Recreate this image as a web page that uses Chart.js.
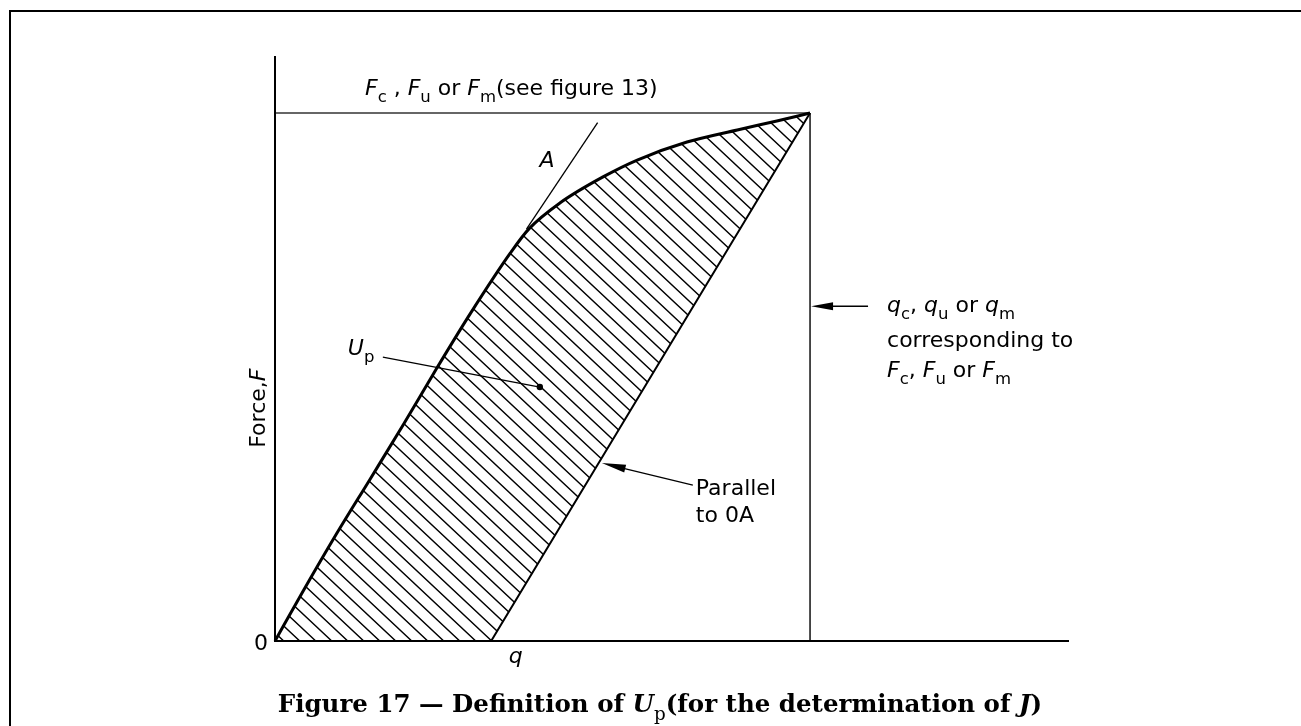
<!DOCTYPE html>
<html>
<head>
<meta charset="utf-8">
<title>Definition of Up</title>
<script src="https://cdn.jsdelivr.net/npm/chart.js@4.4.1/dist/chart.umd.min.js"></script>
<style>
  html, body { margin: 0; padding: 0; background: #fff; }
  #wrap { width: 1301px; height: 726px; }
</style>
</head>
<body>
<div id="wrap"><canvas id="fig" width="1301" height="726"></canvas></div>
<script>
// force / displacement record, normalised so the maximum point is q = 1, F = 1
const curveQ = [0, 0.05, 0.115, 0.178, 0.24, 0.302, 0.365, 0.44, 0.475, 0.533, 0.613, 0.677, 0.77, 0.864, 0.938, 1];
const curveF = [0, 0.09, 0.203, 0.307, 0.41, 0.516, 0.62, 0.735, 0.781, 0.83, 0.879, 0.911, 0.945, 0.968, 0.985, 1];

// line parallel to OA: runs along q from O to its foot, then up to the maximum point
const unloadQ = [0, 0.404, 1];
const unloadF = [0, 0, 1];

// tangent OA, the part showing above A
const tangentQ = [0.47, 0.603];
const tangentF = [0.78, 0.982];

// Fc/Fu/Fm level and qc/qu/qm position
const levelQ = [0, 1];
const levelF = [1, 1];
const stopQ = [1, 1];
const stopF = [1, 0];

// axis extents
const qMax = 1.484;
const fMax = 1.108;

// annotated points
const upPoint = { q: 0.495, f: 0.481 };
const parallelTip = { q: 0.609, f: 0.337 };
const stopArrowF = 0.634;

const SANS = "'DejaVu Sans', sans-serif";
const SERIF = "'DejaVu Serif', serif";

const pts = (xs, ys) => xs.map((x, i) => ({ x, y: ys[i] }));

function hatchPattern(w, h) {
    const c = document.createElement('canvas');
    c.width = w; c.height = h;
    const g = c.getContext('2d');
    g.strokeStyle = '#000';
    g.lineWidth = 1.4;
    const k = h / w, e = 2;
    g.beginPath();
    g.moveTo(-e, -e * k); g.lineTo(w + e, h + e * k);
    g.moveTo(w - e, -e * k); g.lineTo(w + e, e * k);
    g.moveTo(-e, h - e * k); g.lineTo(e, h + e * k);
    g.stroke();
    return g.createPattern(c, 'repeat');
}

// "*X*" = italic, "_x" = one subscript character
function drawRich(ctx, str, x, y, size, family, weight, align) {
    const parts = [];
    let it = false;
    for (let i = 0; i < str.length; i++) {
        const ch = str[i];
        if (ch === '*') { it = !it; continue; }
        if (ch === '_') { parts.push({ t: str[++i], it: false, sub: true }); continue; }
        const last = parts[parts.length - 1];
        if (last && !last.sub && last.it === it) last.t += ch;
        else parts.push({ t: ch, it, sub: false });
    }
    const fontOf = p => (p.it ? 'italic ' : '') + (p.sub ? 'normal ' : weight + ' ') + (p.sub ? size * 0.75 : size) + 'px ' + family;
    let total = 0;
    for (const p of parts) { ctx.font = fontOf(p); total += ctx.measureText(p.t).width; }
    if (align === 'center') x -= total / 2;
    else if (align === 'right') x -= total;
    ctx.textAlign = 'left';
    ctx.textBaseline = 'alphabetic';
    for (const p of parts) {
        ctx.font = fontOf(p);
        ctx.fillText(p.t, x, y + (p.sub ? size * 0.32 : 0));
        x += ctx.measureText(p.t).width;
    }
}

function arrow(ctx, x0, y0, x1, y1, len, half) {
    const a = Math.atan2(y1 - y0, x1 - x0);
    ctx.beginPath();
    ctx.moveTo(x0, y0);
    ctx.lineTo(x1 - Math.cos(a) * len * 0.8, y1 - Math.sin(a) * len * 0.8);
    ctx.stroke();
    ctx.beginPath();
    ctx.moveTo(x1, y1);
    ctx.lineTo(x1 - Math.cos(a) * len + Math.sin(a) * half, y1 - Math.sin(a) * len - Math.cos(a) * half);
    ctx.lineTo(x1 - Math.cos(a) * len - Math.sin(a) * half, y1 - Math.sin(a) * len + Math.cos(a) * half);
    ctx.closePath();
    ctx.fill();
}

const annotations = {
    id: 'annotations',
    afterDraw(chart) {
        const { ctx, chartArea: area } = chart;
        const xs = chart.scales.x, ys = chart.scales.y;
        const px = q => xs.getPixelForValue(q);
        const py = f => ys.getPixelForValue(f);
        ctx.save();
        ctx.fillStyle = '#000';
        ctx.strokeStyle = '#000';

        // frame
        ctx.lineWidth = 2;
        ctx.beginPath();
        ctx.moveTo(10, chart.height + 2); ctx.lineTo(10, 11); ctx.lineTo(chart.width + 2, 11);
        ctx.stroke();

        // axes
        ctx.lineWidth = 2;
        ctx.beginPath();
        ctx.moveTo(area.left, area.top); ctx.lineTo(area.left, area.bottom); ctx.lineTo(area.right, area.bottom);
        ctx.stroke();

        // axis labels
        drawRich(ctx, '0', area.left - 7, area.bottom + 9, 22, SANS, 'normal', 'right');
        drawRich(ctx, '*q*', px(0.45), area.bottom + 22, 22, SANS, 'normal', 'center');
        ctx.save();
        ctx.translate(area.left - 10, py(0.441));
        ctx.rotate(-Math.PI / 2);
        drawRich(ctx, 'Force,*F*', 0, 0, 22, SANS, 'normal', 'center');
        ctx.restore();

        // level text
        drawRich(ctx, '*F*_c , *F*_u or *F*_m(see figure 13)', area.left + 90, py(1) - 18, 22, SANS, 'normal', 'left');

        // A
        drawRich(ctx, '*A*', px(tangentQ[0]) + 13, py(tangentF[0]) - 62, 22, SANS, 'normal', 'left');

        // Up leader and dot
        const ux = px(upPoint.q), uy = py(upPoint.f);
        ctx.lineWidth = 1.2;
        ctx.beginPath();
        ctx.moveTo(ux - 157, uy - 30); ctx.lineTo(ux, uy);
        ctx.stroke();
        ctx.beginPath();
        ctx.arc(ux, uy, 3.2, 0, Math.PI * 2);
        ctx.fill();
        drawRich(ctx, '*U*_p', ux - 192, uy - 32, 22, SANS, 'normal', 'left');

        // parallel to OA
        const tx = px(parallelTip.q), ty = py(parallelTip.f);
        ctx.lineWidth = 1.3;
        arrow(ctx, tx + 92, ty + 22, tx + 1, ty, 24, 4);
        drawRich(ctx, 'Parallel', tx + 95, ty + 32, 22, SANS, 'normal', 'left');
        drawRich(ctx, 'to 0A', tx + 95, ty + 59, 22, SANS, 'normal', 'left');

        // qc/qu/qm arrow and text
        const sx = px(1), sy = py(stopArrowF);
        arrow(ctx, sx + 58, sy, sx + 1, sy, 22, 4);
        const lx = sx + 77;
        drawRich(ctx, '*q*_c, *q*_u or *q*_m', lx, sy + 6, 22, SANS, 'normal', 'left');
        drawRich(ctx, 'corresponding to', lx, sy + 41, 22, SANS, 'normal', 'left');
        drawRich(ctx, '*F*_c, *F*_u or *F*_m', lx, sy + 71, 22, SANS, 'normal', 'left');

        // caption
        drawRich(ctx, 'Figure 17 \u2014 Definition of *U*_p(for the determination of *J*)', 660, 712, 24.5, SERIF, 'bold', 'center');
        ctx.restore();
    }
};

const ctx = document.getElementById('fig').getContext('2d');
new Chart(ctx, {
    type: 'scatter',
    data: {
        datasets: [
            {
                label: 'record',
                data: pts(curveQ, curveF),
                showLine: true,
                borderColor: '#000',
                borderWidth: 3,
                cubicInterpolationMode: 'monotone',
                pointRadius: 0,
                fill: 1,
                backgroundColor: hatchPattern(16, 15),
                clip: false
            },
            {
                label: 'parallel to OA',
                data: pts(unloadQ, unloadF),
                showLine: true,
                borderColor: '#000',
                borderWidth: 2,
                tension: 0,
                pointRadius: 0,
                fill: false,
                clip: false
            },
            {
                label: 'tangent OA',
                data: pts(tangentQ, tangentF),
                showLine: true,
                borderColor: '#000',
                borderWidth: 1.3,
                pointRadius: 0,
                fill: false,
                clip: false
            },
            {
                label: 'force level',
                data: pts(levelQ, levelF),
                showLine: true,
                borderColor: '#333',
                borderWidth: 1.5,
                pointRadius: 0,
                fill: false,
                clip: false
            },
            {
                label: 'displacement',
                data: pts(stopQ, stopF),
                showLine: true,
                borderColor: '#111',
                borderWidth: 1.5,
                pointRadius: 0,
                fill: false,
                clip: false
            }
        ]
    },
    options: {
        responsive: false,
        animation: false,
        events: [],
        layout: { padding: { left: 275, top: 56, right: 232, bottom: 85 } },
        plugins: { legend: { display: false }, tooltip: { enabled: false } },
        scales: {
            x: { type: 'linear', min: 0, max: qMax, display: false },
            y: { type: 'linear', min: 0, max: fMax, display: false }
        }
    },
    plugins: [annotations]
});
</script>
</body>
</html>
